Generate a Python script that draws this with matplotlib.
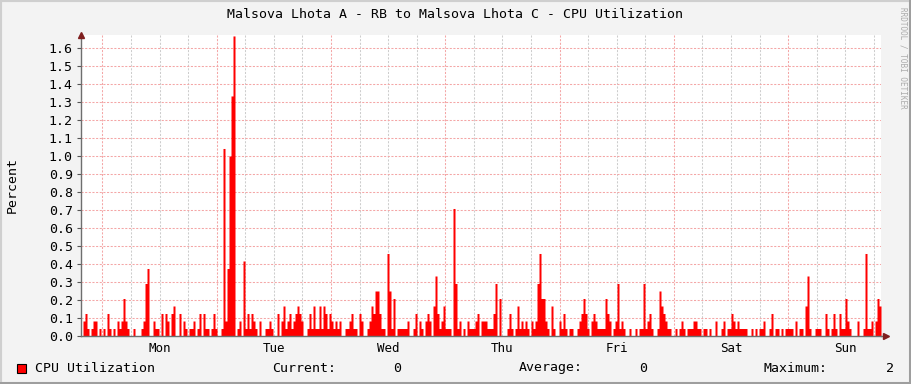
import numpy as np
import matplotlib
matplotlib.use("Agg")
import matplotlib.pyplot as plt
from matplotlib.patches import Rectangle

# CPU utilization in steps of 1/24 percent
# (one value every 25.2 minutes, starting Sunday 19:30)
cpu_levels = [
    0, 2, 3, 1, 0, 1, 2, 2, 0, 1, 0, 1, 0, 3, 1, 0, 1, 0, 2, 1,
    2, 5, 2, 1, 0, 0, 1, 0, 0, 0, 1, 2, 7, 9, 0, 0, 2, 1, 1, 0,
    3, 0, 3, 2, 0, 3, 4, 0, 0, 3, 0, 2, 1, 0, 1, 1, 2, 0, 1, 3,
    0, 3, 1, 1, 0, 1, 3, 1, 0, 0, 1, 25, 2, 9, 24, 32, 40, 0, 1, 2,
    0, 10, 1, 3, 1, 3, 2, 1, 0, 2, 0, 0, 1, 1, 2, 1, 0, 0, 3, 0,
    2, 4, 1, 2, 3, 1, 2, 3, 4, 3, 2, 0, 0, 1, 3, 1, 4, 1, 1, 4,
    1, 4, 3, 1, 3, 2, 1, 2, 1, 2, 0, 0, 1, 1, 2, 3, 1, 1, 0, 3,
    2, 0, 0, 1, 2, 4, 3, 6, 6, 3, 1, 1, 0, 11, 6, 1, 5, 0, 1, 1,
    1, 1, 1, 2, 0, 0, 1, 3, 0, 2, 1, 0, 2, 3, 2, 0, 4, 8, 3, 1,
    2, 4, 1, 1, 1, 0, 17, 7, 1, 2, 0, 1, 0, 2, 1, 1, 1, 2, 3, 0,
    2, 2, 2, 1, 1, 1, 3, 7, 0, 5, 0, 0, 0, 1, 3, 1, 0, 1, 4, 1,
    2, 1, 2, 1, 0, 2, 1, 2, 7, 11, 5, 5, 2, 1, 0, 4, 1, 0, 0, 2,
    1, 3, 1, 0, 1, 1, 0, 0, 1, 2, 3, 5, 3, 1, 0, 2, 3, 2, 1, 1,
    1, 1, 5, 3, 2, 0, 1, 2, 7, 1, 2, 1, 0, 0, 1, 0, 0, 1, 0, 1,
    1, 7, 1, 2, 3, 1, 0, 0, 1, 6, 4, 3, 2, 1, 1, 0, 0, 1, 0, 1,
    2, 1, 0, 1, 1, 1, 2, 2, 1, 1, 0, 1, 1, 0, 1, 0, 0, 2, 0, 0,
    1, 2, 0, 1, 1, 3, 2, 1, 2, 1, 1, 1, 1, 0, 0, 1, 0, 1, 0, 1,
    1, 2, 0, 0, 1, 3, 0, 1, 1, 0, 1, 0, 1, 1, 1, 1, 0, 2, 0, 1,
    1, 0, 4, 8, 1, 0, 0, 1, 1, 1, 0, 0, 3, 1, 0, 1, 3, 1, 0, 3,
    1, 1, 5, 2, 1, 0, 0, 0, 2, 0, 0, 1, 11, 1, 1, 2, 0, 2, 5, 4,
]
day_labels = ["Mon", "Tue", "Wed", "Thu", "Fri", "Sat", "Sun"]
y_ticks = [0.0, 0.1, 0.2, 0.3, 0.4, 0.5, 0.6, 0.7, 0.8, 0.9,
           1.0, 1.1, 1.2, 1.3, 1.4, 1.5, 1.6]
title = "Malsova Lhota A - RB to Malsova Lhota C - CPU Utilization"
legend_stats = [("Current:", "0"), ("Average:", "0"), ("Maximum:", "2")]

cpu = np.array(cpu_levels) / 24.0
start_h = -4.5                      # hours relative to Monday 00:00
span_h = 168.0
step_h = span_h / len(cpu)
edges = start_h + step_h * np.arange(len(cpu) + 1)

W, H = 911, 384
fig = plt.figure(figsize=(W / 100, H / 100), dpi=100, facecolor="#F3F3F3")
ax = fig.add_axes([81 / W, (H - 336) / H, 800 / W, 301 / H])
ax.set_facecolor("white")

mono = "DejaVu Sans Mono"
major_c = "#F4A6A6"
minor_c = "#CDCDCD"

# grid
for h in np.arange(-6, 170, 6):
    if start_h < h < start_h + span_h:
        c = major_c if h % 24 == 0 else minor_c
        ax.axvline(h, color=c, lw=0.75, ls=(0, (2, 1.5)), zorder=0)
for v in y_ticks[1:]:
    ax.axhline(v, color=major_c, lw=0.75, ls=(0, (2, 1.5)), zorder=0)

ax.fill_between(edges, np.append(cpu, cpu[-1]), step="post",
                color="#FF0000", lw=0, antialiased=False, zorder=2)

ax.set_xlim(start_h, start_h + span_h)
ax.set_ylim(0, 1.672)

ax.set_xticks([12 + 24 * i for i in range(7)], day_labels)
ax.tick_params(axis="x", length=0, pad=4, labelsize=9, labelcolor="black")
ax.set_yticks(y_ticks, [f"{v:.1f}" for v in y_ticks])
ax.tick_params(axis="y", length=3, width=0.8, color="#555555", pad=3,
               labelsize=9.5)
for lab in ax.get_xticklabels() + ax.get_yticklabels():
    lab.set_fontfamily(mono)

for s in ["top", "right"]:
    ax.spines[s].set_visible(False)
ax.spines["left"].set_color("#6E6E6E")
ax.spines["bottom"].set_color("#6E6E6E")
ax.spines["left"].set_linewidth(1)
ax.spines["bottom"].set_linewidth(1)

# axis arrows
ax.plot([0], [1.0], marker="^", ms=4, color="#7F1F1F", transform=ax.transAxes,
        clip_on=False, zorder=5)
ax.plot([1.006], [0], marker=">", ms=4, color="#7F1F1F", transform=ax.transAxes,
        clip_on=False, zorder=5)
ax.plot([1.0, 1.006], [0, 0], color="#6E6E6E", lw=1, transform=ax.transAxes,
        clip_on=False)

fig.text(455 / W, 1 - 14 / H, title, ha="center", va="center",
         fontsize=9.5, family=mono)
fig.text(12 / W, 1 - 185 / H, "Percent", rotation=90, ha="center",
         va="center", fontsize=9.5, family=mono)
fig.text(903 / W, 1 - 58 / H, "RRDTOOL / TOBI OETIKER", rotation=270,
         ha="center", va="center", fontsize=5.5, family=mono, color="#ABABAB")

# legend row
ly = 1 - 368 / H
fig.patches.append(Rectangle((17 / W, 1 - 373 / H), 9 / W, 9 / H,
                             transform=fig.transFigure, facecolor="#FF0000",
                             edgecolor="black", lw=0.8))
fig.text(35 / W, ly, "CPU Utilization", ha="left", va="center",
         fontsize=9.5, family=mono)
label_x = [272, 519, 764]
value_x = [401, 647, 894]
for (lbl, val), lx, vx in zip(legend_stats, label_x, value_x):
    fig.text(lx / W, ly, lbl, ha="left", va="center", fontsize=9.5, family=mono)
    fig.text(vx / W, ly, val, ha="right", va="center", fontsize=9.5, family=mono)

# frame around the canvas
fig.patches.append(Rectangle((0, 0), 1, 1, transform=fig.transFigure,
                             fill=False, edgecolor="#CFCFCF", lw=3))
fig.patches.append(Rectangle((0, 0), 1, 2.5 / H, transform=fig.transFigure,
                             facecolor="#9E9E9E", lw=0))
fig.patches.append(Rectangle((1 - 2.5 / W, 0), 2.5 / W, 1, transform=fig.transFigure,
                             facecolor="#9E9E9E", lw=0))

fig.savefig("out.png", dpi=100, facecolor=fig.get_facecolor())
